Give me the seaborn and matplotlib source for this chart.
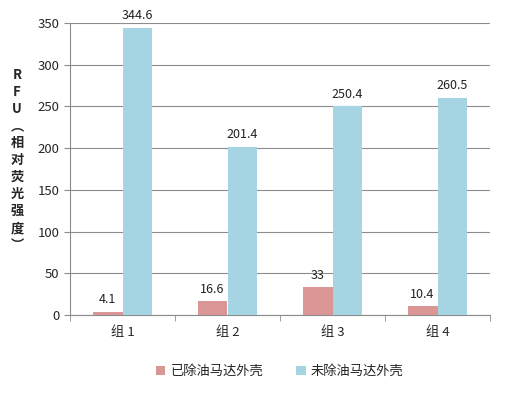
import pandas as pd
import matplotlib.pyplot as plt
import seaborn as sns

groups = ["组 1", "组 2", "组 3", "组 4"]
removed = [4.1, 16.6, 33, 10.4]
not_removed = [344.6, 201.4, 250.4, 260.5]
series = ["已除油马达外壳", "未除油马达外壳"]
colors = ["#D99694", "#A5D5E2"]

df = pd.DataFrame({
    "group": groups * 2,
    "series": [series[0]] * 4 + [series[1]] * 4,
    "value": removed + not_removed,
})

sns.set_style("white")
plt.rcParams["font.family"] = ["Noto Sans CJK SC", "DejaVu Sans"]

fig = plt.figure(figsize=(5.09, 3.98), dpi=100)
ax = fig.add_axes([70 / 509, 1 - 315 / 398, 420 / 509, 292 / 398])

sns.barplot(
    data=df, x="group", y="value", hue="series",
    palette=colors, width=0.57, saturation=1, linewidth=0,
    ax=ax, zorder=3,
)

for cont in ax.containers:
    labels = [f"{v:g}" for v in cont.datavalues]
    ax.bar_label(cont, labels=labels, padding=4, fontsize=9, color="#222222")

ax.set_ylim(0, 350)
ax.set_yticks(range(0, 351, 50))
ax.set_xlim(-0.5, 3.5)
ax.yaxis.grid(True, color="#8c8c8c", linewidth=0.8, zorder=0)
ax.set_xlabel("")
ax.set_ylabel("")
for s in ["top", "right"]:
    ax.spines[s].set_visible(False)
ax.spines["left"].set_color("#8c8c8c")
ax.spines["bottom"].set_color("#8c8c8c")
ax.set_xticks([-0.5, 0.5, 1.5, 2.5, 3.5], minor=True)
ax.tick_params(axis="x", which="minor", length=4, color="#8c8c8c", bottom=True)
ax.tick_params(axis="x", which="major", length=0, labelsize=9.5, pad=8)
ax.tick_params(axis="y", length=4, color="#8c8c8c", left=True, labelsize=9.5)

fig.text(17 / 509, 1 - 160 / 398, "R\nF\nU\n︵\n相\n对\n荧\n光\n强\n度\n︶",
         ha="center", va="center", fontsize=9.5, fontweight="bold", linespacing=1.28)

ax.legend(loc="upper center", bbox_to_anchor=(0.5, -0.13), ncol=2,
          frameon=False, fontsize=9.5, handlelength=0.7, handleheight=0.7,
          columnspacing=2.5, handletextpad=0.4)

fig.savefig("out.png", dpi=100)
